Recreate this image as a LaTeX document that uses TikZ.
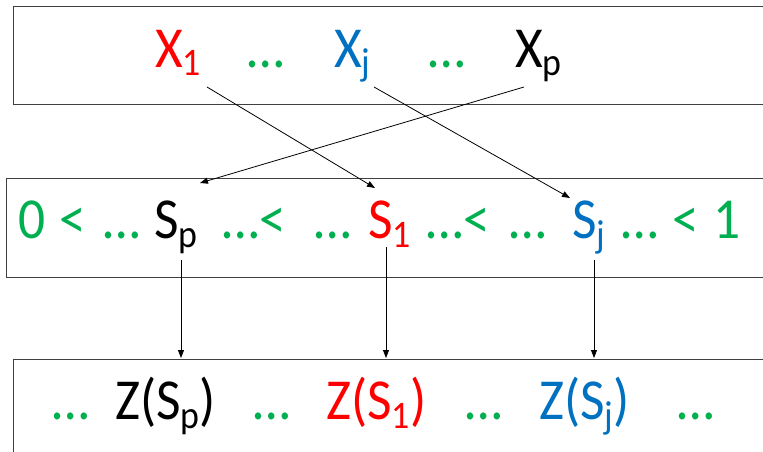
\documentclass[tikz,border=0pt]{standalone}
\usepackage{fontspec}
\setmainfont{Carlito}
\usetikzlibrary{arrows.meta}
\definecolor{pred}{RGB}{255,0,0}
\definecolor{pblue}{RGB}{0,112,192}
\definecolor{pgreen}{RGB}{0,176,80}
\newcommand{\lowidx}[1]{\raisebox{-9pt}{\fontsize{39}{39}\selectfont #1}}
\tikzset{
  txt/.style={anchor=base west, inner sep=0pt, xscale=0.92, transform shape,
    font=\fontsize{58}{60}\selectfont},
  box/.style={draw=black!75, line width=1pt},
  link/.style={-{Triangle[length=8pt,width=6pt]}, line width=0.8pt}
}
\begin{document}
\begin{tikzpicture}[x=1pt,y=-1pt]
    \useasboundingbox (0,0) rectangle (763,452);
    % boxes
    \draw[box] (13,7) rectangle (780,104);
    \draw[box] (6,178) rectangle (780,277);
    \draw[box] (13,359) rectangle (780,470);
    % variables
    \node[txt, pred] (x1) at (155,67) {X\lowidx{1}};
    \node[txt, pgreen] (dx1) at (247,67) {…};
    \node[txt, pblue] (xj) at (334,67) {X\lowidx{j}};
    \node[txt, pgreen] (dx2) at (428,67) {…};
    \node[txt] (xp) at (515,67) {X\lowidx{p}};
    % scores
    \node[txt, pgreen] (zero) at (18,238) {0};
    \node[txt, pgreen] (lt1) at (59,238) {<};
    \node[txt, pgreen] (ds1) at (103,238) {…};
    \node[txt] (sp) at (154,238) {S\lowidx{p}};
    \node[txt, pgreen] (ds2) at (222,238) {…<};
    \node[txt, pgreen] (ds3) at (314,238) {…};
    \node[txt, pred] (s1) at (368,238) {S\lowidx{1}};
    \node[txt, pgreen] (ds4) at (426,238) {…<};
    \node[txt, pgreen] (ds5) at (509,238) {…};
    \node[txt, pblue] (sj) at (572,238) {S\lowidx{j}};
    \node[txt, pgreen] (ds6) at (621,238) {…};
    \node[txt, pgreen] (lt2) at (672,238) {<};
    \node[txt, pgreen] (one) at (713,238) {1};
    % transformed
    \node[txt, pgreen] (dz1) at (52,419) {…};
    \node[txt] (zsp) at (115,419) {Z(S\lowidx{p})};
    \node[txt, pgreen] (dz2) at (253,419) {…};
    \node[txt, pred] (zs1) at (326,419) {Z(S\lowidx{1})};
    \node[txt, pgreen] (dz3) at (465,419) {…};
    \node[txt, pblue] (zsj) at (539,419) {Z(S\lowidx{j})};
    \node[txt, pgreen] (dz4) at (677,419) {…};
    % connector ends
    \coordinate (x1-out) at (207,87);
    \coordinate (xj-out) at (374,87);
    \coordinate (xp-out) at (524,87);
    \coordinate (sp-in) at (200,183);
    \coordinate (s1-in) at (375,188);
    \coordinate (sj-in) at (570,198);
    \coordinate (sp-out) at (181,260);
    \coordinate (s1-out) at (386,247);
    \coordinate (sj-out) at (594,260);
    \coordinate (zsp-in) at (181,358);
    \coordinate (zs1-in) at (386,358);
    \coordinate (zsj-in) at (594,358);
    \draw[link] (x1-out) -- (s1-in);
    \draw[link] (xj-out) -- (sj-in);
    \draw[link] (xp-out) -- (sp-in);
    \draw[link] (sp-out) -- (zsp-in);
    \draw[link] (s1-out) -- (zs1-in);
    \draw[link] (sj-out) -- (zsj-in);
\end{tikzpicture}
\end{document}
